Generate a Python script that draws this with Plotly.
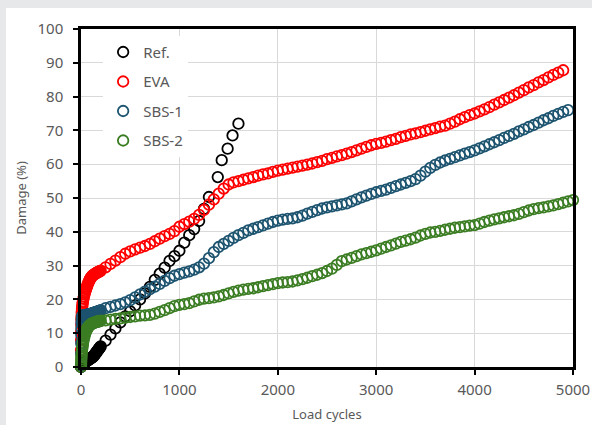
import plotly.graph_objects as go

# ---------------- data ----------------
cycles = [
    0, 1, 2, 3, 4, 5, 7, 10, 12, 15, 17, 20,
    25, 30, 35, 40, 45, 50, 55, 60, 65, 70,
    75, 80, 85, 90, 95, 100, 105, 110, 115, 120,
    125, 130, 135, 140, 145, 150, 155, 160, 165, 170,
    175, 180, 185, 190, 195, 200,
    250, 300, 350, 400, 450, 500, 550, 600, 650, 700,
    750, 800, 850, 900, 950, 1000, 1050, 1100, 1150, 1200,
    1250, 1300, 1350, 1400, 1450, 1500, 1550, 1600, 1650, 1700,
    1750, 1800, 1850, 1900, 1950, 2000, 2050, 2100, 2150, 2200,
    2250, 2300, 2350, 2400, 2450, 2500, 2550, 2600, 2650, 2700,
    2750, 2800, 2850, 2900, 2950, 3000, 3050, 3100, 3150, 3200,
    3250, 3300, 3350, 3400, 3450, 3500, 3550, 3600, 3650, 3700,
    3750, 3800, 3850, 3900, 3950, 4000, 4050, 4100, 4150, 4200,
    4250, 4300, 4350, 4400, 4450, 4500, 4550, 4600, 4650, 4700,
    4750, 4800, 4850, 4900, 4950, 5000,
]

ref_cycles = [
    0, 1, 2, 3, 4, 5, 7, 10, 12, 15, 17, 20,
    25, 30, 35, 40, 45, 50, 55, 60, 65, 70,
    75, 80, 85, 90, 95, 100, 105, 110, 115, 120,
    125, 130, 135, 140, 145, 150, 155, 160, 165, 170,
    175, 180, 185, 190, 195, 200,
    250, 300, 350, 400, 450, 500, 550, 600, 650, 700,
    750, 800, 850, 900, 950, 1000, 1050, 1100, 1150, 1200,
    1250, 1300, 1390, 1430, 1490, 1540, 1600,
]
ref_damage = [
    0.0, 0.1, 0.2, 0.3, 0.4, 0.5, 0.6, 0.7, 0.8, 0.9, 1.0, 1.0,
    1.1, 1.2, 1.3, 1.4, 1.5, 1.6, 1.7, 1.8, 1.9, 2.0,
    2.1, 2.2, 2.3, 2.4, 2.5, 2.6, 2.7, 2.8, 2.9, 3.0,
    3.1, 3.3, 3.5, 3.7, 3.9, 4.1, 4.3, 4.5, 4.7, 4.9,
    5.1, 5.3, 5.5, 5.7, 5.9, 6.1,
    7.8, 9.6, 11.4, 13.2, 15.0, 16.5, 18.2, 20.0, 21.8, 23.7,
    25.8, 27.6, 29.4, 31.4, 32.8, 34.4, 36.8, 39.0, 40.8, 43.2,
    46.8, 50.3, 56.2, 61.2, 64.6, 68.5, 72.0,
]

eva_damage = [
    5.0, 8.0, 10.5, 12.5, 14.0, 15.0, 16.2, 17.2, 17.8, 18.5, 19.0, 19.5,
    20.2, 20.9, 21.5, 22.0, 22.5, 23.0, 23.4, 23.8, 24.2, 24.6,
    25.0, 25.3, 25.6, 25.9, 26.2, 26.4, 26.6, 26.8, 27.0, 27.1,
    27.2, 27.3, 27.4, 27.5, 27.6, 27.7, 27.8, 27.9, 28.0, 28.0,
    28.1, 28.2, 28.2, 28.3, 28.4, 28.5,
    29.5, 30.5, 31.5, 32.5, 33.5, 34.2, 34.8, 35.3, 35.8, 36.4,
    37.2, 38.0, 38.7, 39.4, 40.2, 41.5, 42.3, 43.0, 43.8, 45.0,
    46.5, 48.0, 49.6, 51.3, 52.8, 54.0, 54.6, 55.0, 55.4, 55.8,
    56.2, 56.6, 57.0, 57.3, 57.7, 58.1, 58.4, 58.7, 59.0, 59.3,
    59.6, 59.9, 60.2, 60.6, 61.0, 61.5, 61.9, 62.3, 62.7, 63.1,
    63.6, 64.1, 64.6, 65.1, 65.6, 66.0, 66.3, 66.7, 67.1, 67.5,
    68.0, 68.4, 68.8, 69.1, 69.5, 69.9, 70.3, 70.7, 71.1, 71.4,
    72.0, 72.6, 73.3, 73.9, 74.5, 75.0, 75.6, 76.2, 76.9, 77.6,
    78.3, 79.0, 79.7, 80.4, 81.2, 81.9, 82.7, 83.4, 84.2, 84.9,
    85.7, 86.4, 87.1, 87.8,
]

sbs1_damage = [
    0.5, 4.0, 7.0, 9.5, 11.5, 13.0, 14.0, 14.6, 14.9, 15.1, 15.2, 15.3,
    15.3, 15.3, 15.3, 15.3, 15.3, 15.4, 15.4, 15.4, 15.5, 15.5,
    15.5, 15.6, 15.6, 15.6, 15.7, 15.7, 15.8, 15.8, 15.9, 15.9,
    16.0, 16.0, 16.1, 16.1, 16.2, 16.2, 16.3, 16.3, 16.4, 16.4,
    16.5, 16.5, 16.6, 16.6, 16.7, 16.8,
    17.4, 17.8, 18.2, 18.6, 19.1, 19.8, 20.6, 21.5, 22.3, 23.0,
    23.8, 24.6, 25.5, 26.3, 27.0, 27.5, 27.9, 28.3, 28.8, 29.5,
    30.6, 32.2, 34.0, 35.5, 36.4, 37.3, 38.2, 39.0, 39.7, 40.4,
    40.9, 41.4, 41.9, 42.4, 42.9, 43.3, 43.6, 43.8, 44.0, 44.3,
    44.8, 45.4, 45.9, 46.4, 46.9, 47.2, 47.5, 47.8, 48.1, 48.4,
    49.0, 49.6, 50.2, 50.7, 51.2, 51.7, 52.1, 52.5, 53.0, 53.5,
    54.0, 54.5, 55.0, 55.6, 56.6, 57.8, 58.9, 59.8, 60.5, 61.1,
    61.6, 62.1, 62.6, 63.1, 63.6, 64.1, 64.7, 65.3, 65.9, 66.5,
    67.1, 67.8, 68.4, 69.0, 69.7, 70.3, 71.0, 71.6, 72.3, 73.0,
    73.6, 74.3, 74.9, 75.5, 76.0,
]

sbs2_damage = [
    0.0, 0.8, 1.5, 2.2, 2.8, 3.3, 4.0, 4.8, 5.3, 6.0, 6.4, 7.0,
    7.8, 8.5, 9.1, 9.7, 10.2, 10.6, 10.9, 11.2, 11.5, 11.7,
    11.9, 12.1, 12.3, 12.4, 12.5, 12.6, 12.7, 12.8, 12.9, 13.0,
    13.0, 13.1, 13.1, 13.2, 13.2, 13.3, 13.3, 13.4, 13.4, 13.5,
    13.5, 13.5, 13.6, 13.6, 13.6, 13.7,
    13.8, 14.0, 14.2, 14.4, 14.6, 14.8, 15.0, 15.2, 15.3, 15.4,
    15.8, 16.3, 16.8, 17.4, 18.0, 18.4, 18.6, 18.9, 19.4, 19.9,
    20.2, 20.4, 20.6, 20.9, 21.3, 21.8, 22.2, 22.6, 22.9, 23.1,
    23.3, 23.6, 23.9, 24.2, 24.5, 24.8, 25.0, 25.1, 25.3, 25.6,
    26.0, 26.4, 26.9, 27.3, 27.8, 28.4, 29.1, 30.2, 31.3, 31.8,
    32.3, 32.8, 33.3, 33.7, 34.1, 34.5, 35.0, 35.5, 36.0, 36.5,
    37.0, 37.4, 37.8, 38.3, 38.9, 39.4, 39.8, 40.0, 40.3, 40.6,
    40.9, 41.2, 41.4, 41.6, 41.8, 42.0, 42.4, 42.9, 43.3, 43.7,
    44.0, 44.3, 44.6, 44.9, 45.3, 45.8, 46.3, 46.7, 47.0, 47.2,
    47.5, 47.8, 48.2, 48.6, 49.0, 49.4,
]

series_names = ["Ref.", "EVA", "SBS-1", "SBS-2"]
series_colors = ["#000000", "#ff0000", "#1d5470", "#3b7d23"]

x_ticks = [0, 1000, 2000, 3000, 4000, 5000]
y_ticks = [0, 10, 20, 30, 40, 50, 60, 70, 80, 90, 100]

# ---------------- figure ----------------
FONT = "Noto Sans, Open Sans, sans-serif"
TXT = "#595959"

series = [
    (ref_cycles[:len(ref_damage)], ref_damage),
    (cycles[:len(eva_damage)], eva_damage),
    (cycles[:len(sbs1_damage)], sbs1_damage),
    (cycles[:len(sbs2_damage)], sbs2_damage),
]

fig = go.Figure()
for (xs, ys), name, col in zip(series, series_names, series_colors):
    fig.add_trace(go.Scatter(
        x=xs, y=ys, mode="markers", name=name, legendgroup=name,
        cliponaxis=False,
        marker=dict(symbol="circle-open", size=10.5, color=col,
                    line=dict(width=1.8, color=col)),
    ))

W, H = 592, 425
L, R, T, B = 81, 19, 29, 58
pw, ph = W - L - R, H - T - B

# white card over grey page background
fig.add_shape(type="rect", xref="paper", yref="paper", layer="below",
              x0=(6 - L) / pw, x1=(W - L) / pw,
              y0=-(B) / ph, y1=1 + (T - 8) / ph,
              fillcolor="white", line=dict(width=0))

axis_common = dict(
    showgrid=True, gridcolor="#d9d9d9", gridwidth=1,
    showline=True, linecolor="black", linewidth=2.5, mirror=True,
    ticks="outside", ticklen=5, tickwidth=2, tickcolor="black",
    zeroline=False, automargin=False,
    tickfont=dict(family=FONT, size=15, color=TXT),
)

fig.update_xaxes(range=[0, 5000], tickvals=x_ticks,
                 title=dict(text="Load cycles", standoff=13,
                            font=dict(family=FONT, size=13, color=TXT)),
                 ticklabelstandoff=2, **axis_common)
fig.update_yaxes(range=[0, 100], tickvals=y_ticks,
                 title=dict(text="Damage (%)", standoff=8,
                            font=dict(family=FONT, size=13, color=TXT)),
                 ticklabelstandoff=7, **axis_common)

fig.update_layout(
    width=W, height=H, autosize=False,
    margin=dict(l=L, r=R, t=T, b=B, pad=0),
    paper_bgcolor="#e7e8ea", plot_bgcolor="white",
    font=dict(family=FONT, size=14, color=TXT),
    showlegend=True,
    legend=dict(x=0.045, y=0.98, xanchor="left", yanchor="top",
                bgcolor="white", borderwidth=0,
                font=dict(family=FONT, size=15, color=TXT),
                tracegroupgap=7, itemwidth=30, entrywidth=62),
)

fig.write_html("out.html", config={"displayModeBar": False},
               post_script="document.body.style.margin='0';document.body.style.padding='0';")
